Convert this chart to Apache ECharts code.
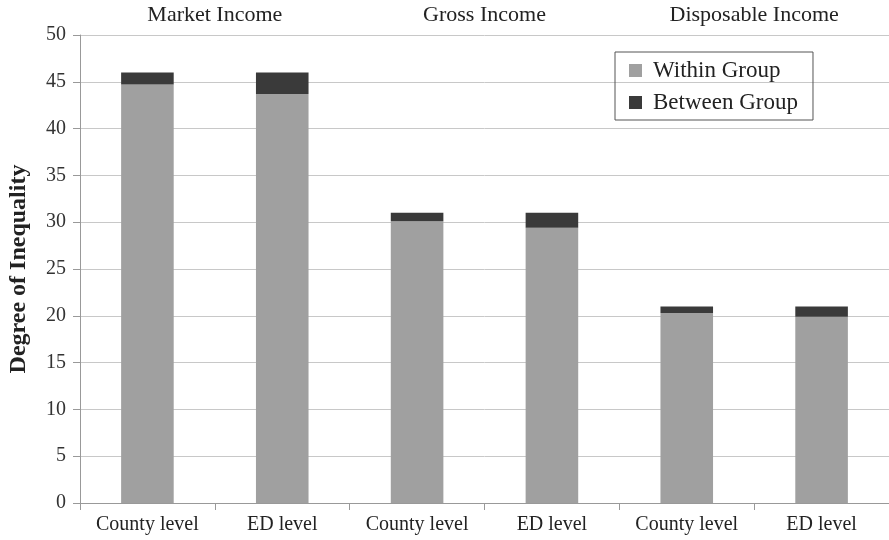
<!DOCTYPE html>
<html>
<head>
<meta charset="utf-8">
<script src="https://cdn.jsdelivr.net/npm/echarts@6/dist/echarts.min.js"></script>
<style>
  html, body { margin: 0; padding: 0; background: #fff; }
  #main { width: 889px; height: 540px; }
</style>
</head>
<body>
<div id="main"></div>
<script>
var categories = ['County level', 'ED level', 'County level', 'ED level', 'County level', 'ED level'];
var groups = ['Market Income', 'Gross Income', 'Disposable Income'];
var withinGroup = [44.7, 43.7, 30.1, 29.4, 20.3, 19.9];
var betweenGroup = [1.3, 2.3, 0.9, 1.6, 0.7, 1.1];

var myChart = echarts.init(document.getElementById('main'));
var font = 'Liberation Serif';

var options = {
    textStyle: { fontFamily: font },
    animation: false,
    legend: {
        orient: 'vertical',
        left: 615,
        top: 52,
        padding: [7, 15, 6, 14],
        itemGap: 9,
        itemWidth: 13,
        itemHeight: 13,
        icon: 'rect',
        borderColor: '#555',
        borderWidth: 1,
        textStyle: { fontFamily: font, fontSize: 23, color: '#222', padding: [0, 0, 0, 6] },
        data: ['Within Group', 'Between Group']
    },
    grid: {
        left: 80,
        right: 0,
        top: 35,
        bottom: 37,
        containLabel: false,
        outerBoundsMode: 'none'
    },
    xAxis: [
        {
            type: 'category',
            data: categories,
            axisLine: { lineStyle: { color: '#999', width: 1 } },
            axisTick: { show: true, interval: 0, length: 7, lineStyle: { color: '#999' } },
            axisLabel: { interval: 0, fontFamily: font, fontSize: 20, color: '#222', margin: 12 }
        },
        {
            type: 'category',
            position: 'top',
            data: groups,
            axisLine: { show: false },
            axisTick: { show: false },
            axisLabel: { interval: 0, fontFamily: font, fontSize: 22, color: '#222', margin: 9 }
        }
    ],
    yAxis: {
        type: 'value',
        min: 0,
        max: 50,
        interval: 5,
        name: 'Degree of Inequality',
        nameLocation: 'middle',
        nameGap: 49,
        nameTextStyle: { fontFamily: font, fontSize: 24, fontWeight: 'bold', color: '#222' },
        axisLine: { show: true, lineStyle: { color: '#999' } },
        axisTick: { show: true, length: 7, lineStyle: { color: '#999' } },
        axisLabel: { fontFamily: font, fontSize: 20, color: '#333', margin: 14 },
        splitLine: { lineStyle: { color: '#c8c8c8', width: 1 } }
    },
    series: [
        {
            name: 'Within Group',
            type: 'bar',
            stack: 'total',
            barWidth: '39%',
            itemStyle: { color: '#a0a0a0' },
            data: withinGroup
        },
        {
            name: 'Between Group',
            type: 'bar',
            stack: 'total',
            barWidth: '39%',
            itemStyle: { color: '#3a3a3a' },
            data: betweenGroup
        }
    ]
};
myChart.setOption(options);
</script>
</body>
</html>
